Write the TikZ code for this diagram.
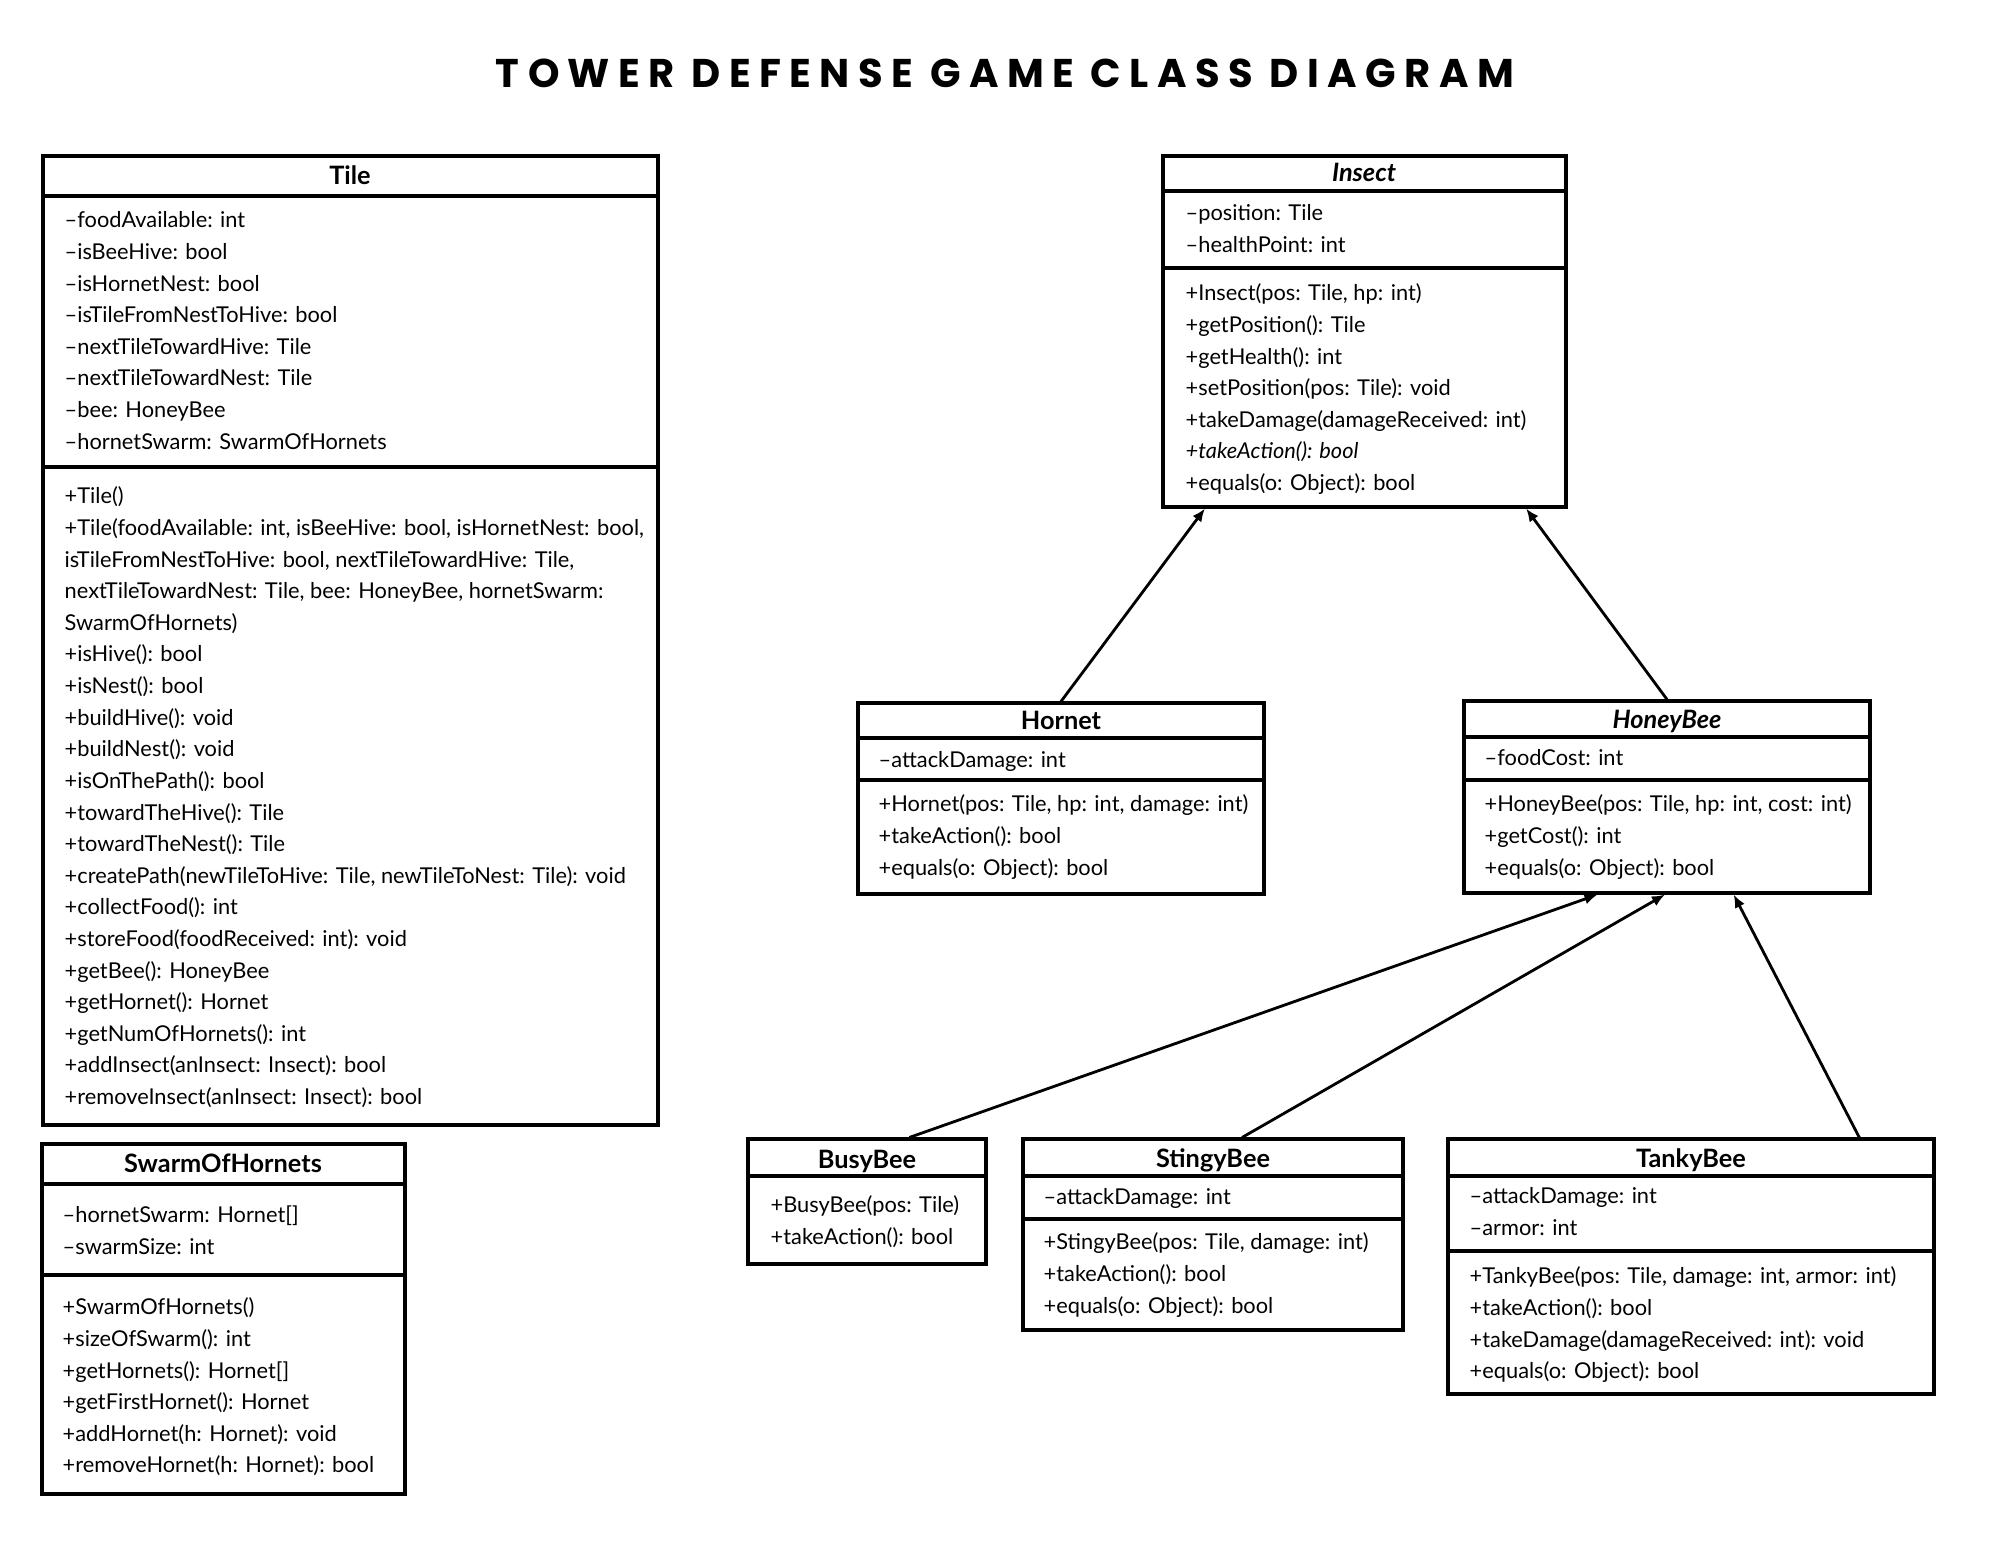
\documentclass[tikz,border=0pt]{standalone}
\usepackage{fontspec}
\setmainfont{Lato}
\newfontfamily\titlefont[LetterSpace=21]{Poppins}
\usetikzlibrary{arrows.meta,calc,fit}
\newcommand\memberfont{\fontsize{6.2}{8.99}\selectfont}
\newcommand\headfont{\fontsize{7.2}{9}\selectfont\bfseries}
\tikzset{
  classbox/.style={draw,line width=0.9pt,inner sep=0pt},
  sepline/.style={line width=0.9pt},
  head/.style={anchor=base,inner sep=0pt,font=\headfont},
  members/.style={anchor=north west,inner sep=0pt,align=left,font=\memberfont},
  inherit/.style={line width=0.8pt,-{Latex[length=1.3mm,width=1.1mm]}}
}

\begin{document}
\begin{tikzpicture}[x=0.01cm,y=-0.01cm]
\useasboundingbox (0,0) rectangle (2000,1547);
\node[anchor=base,inner sep=0pt,font=\titlefont\fontsize{11.4}{12}\selectfont\bfseries] (title) at (1005,87) {TOWER DEFENSE GAME CLASS DIAGRAM};
% Tile
\node[classbox,fit={(43,156) (658,1125)}] (tile) {};
\draw[sepline] (43,196) -- (658,196);
\draw[sepline] (43,467) -- (658,467);
\node[head] (tileH) at (350,184) {Tile};
\node[members] (tileA) at (64,205) {\strut –foodAvailable: int\\ –isBeeHive: bool\\ –isHornetNest: bool\\ –isTileFromNestToHive: bool\\ –nextTileTowardHive: Tile\\ –nextTileTowardNest: Tile\\ –bee: HoneyBee\\ –hornetSwarm: SwarmOfHornets};
\node[members] (tileM) at (64,481) {\strut +Tile()\\ +Tile(foodAvailable: int, isBeeHive: bool, isHornetNest: bool,\\ isTileFromNestToHive: bool, nextTileTowardHive: Tile,\\ nextTileTowardNest: Tile, bee: HoneyBee, hornetSwarm:\\ SwarmOfHornets)\\ +isHive(): bool\\ +isNest(): bool\\ +buildHive(): void\\ +buildNest(): void\\ +isOnThePath(): bool\\ +towardTheHive(): Tile\\ +towardTheNest(): Tile\\ +createPath(newTileToHive: Tile, newTileToNest: Tile): void\\ +collectFood(): int\\ +storeFood(foodReceived: int): void\\ +getBee(): HoneyBee\\ +getHornet(): Hornet\\ +getNumOfHornets(): int\\ +addInsect(anInsect: Insect): bool\\ +removeInsect(anInsect: Insect): bool};
% SwarmOfHornets
\node[classbox,fit={(42,1144) (405,1494)}] (swarm) {};
\draw[sepline] (42,1184) -- (405,1184);
\draw[sepline] (42,1275) -- (405,1275);
\node[head] (swarmH) at (223,1172) {SwarmOfHornets};
\node[members] (swarmA) at (62,1200) {\strut –hornetSwarm: Hornet[]\\ –swarmSize: int};
\node[members] (swarmM) at (62,1292) {\strut +SwarmOfHornets()\\ +sizeOfSwarm(): int\\ +getHornets(): Hornet[]\\ +getFirstHornet(): Hornet\\ +addHornet(h: Hornet): void\\ +removeHornet(h: Hornet): bool};
% Insect
\node[classbox,fit={(1163,156) (1566,507)}] (insect) {};
\draw[sepline] (1163,191) -- (1566,191);
\draw[sepline] (1163,268) -- (1566,268);
\node[head] (insectH) at (1364,181) {\itshape Insect};
\node[members] (insectA) at (1185,198) {\strut –position: Tile\\ –healthPoint: int};
\node[members] (insectM) at (1185,278) {\strut +Insect(pos: Tile, hp: int)\\ +getPosition(): Tile\\ +getHealth(): int\\ +setPosition(pos: Tile): void\\ +takeDamage(damageReceived: int)\\ \textit{+takeAction(): bool}\\ +equals(o: Object): bool};
% Hornet
\node[classbox,fit={(858,703) (1264,894)}] (hornet) {};
\draw[sepline] (858,738) -- (1264,738);
\draw[sepline] (858,780) -- (1264,780);
\node[head] (hornetH) at (1061,729) {Hornet};
\node[members] (hornetA) at (878,745) {\strut –attackDamage: int};
\node[members] (hornetM) at (878,789) {\strut +Hornet(pos: Tile, hp: int, damage: int)\\ +takeAction(): bool\\ +equals(o: Object): bool};
% HoneyBee
\node[classbox,fit={(1464,701) (1870,893)}] (honeybee) {};
\draw[sepline] (1464,737) -- (1870,737);
\draw[sepline] (1464,780) -- (1870,780);
\node[head] (honeybeeH) at (1667,728) {\itshape HoneyBee};
\node[members] (honeybeeA) at (1484,743) {\strut –foodCost: int};
\node[members] (honeybeeM) at (1484,789) {\strut +HoneyBee(pos: Tile, hp: int, cost: int)\\ +getCost(): int\\ +equals(o: Object): bool};
% BusyBee
\node[classbox,fit={(748,1139) (986,1264)}] (busybee) {};
\draw[sepline] (748,1176) -- (986,1176);
\node[head] (busybeeH) at (867,1168) {BusyBee};
\node[members] (busybeeM) at (770,1190) {\strut +BusyBee(pos: Tile)\\ +takeAction(): bool};
% StingyBee
\node[classbox,fit={(1023,1139) (1403,1330)}] (stingybee) {};
\draw[sepline] (1023,1176) -- (1403,1176);
\draw[sepline] (1023,1219) -- (1403,1219);
\node[head] (stingybeeH) at (1213,1167) {StingyBee};
\node[members] (stingybeeA) at (1043,1182) {\strut –attackDamage: int};
\node[members] (stingybeeM) at (1043,1227) {\strut +StingyBee(pos: Tile, damage: int)\\ +takeAction(): bool\\ +equals(o: Object): bool};
% TankyBee
\node[classbox,fit={(1448,1139) (1934,1394)}] (tankybee) {};
\draw[sepline] (1448,1176) -- (1934,1176);
\draw[sepline] (1448,1251) -- (1934,1251);
\node[head] (tankybeeH) at (1691,1167) {TankyBee};
\node[members] (tankybeeA) at (1469,1181) {\strut –attackDamage: int\\ –armor: int};
\node[members] (tankybeeM) at (1469,1261) {\strut +TankyBee(pos: Tile, damage: int, armor: int)\\ +takeAction(): bool\\ +takeDamage(damageReceived: int): void\\ +equals(o: Object): bool};
% inheritance
\draw[inherit] (hornet.north) -- ($(insect.south west)!0.107!(insect.south east)$);
\draw[inherit] (honeybee.north) -- ($(insect.south west)!0.898!(insect.south east)$);
\draw[inherit] ($(busybee.north west)!0.676!(busybee.north east)$) -- ($(honeybee.south west)!0.33!(honeybee.south east)$);
\draw[inherit] ($(stingybee.north west)!0.576!(stingybee.north east)$) -- ($(honeybee.south west)!0.495!(honeybee.south east)$);
\draw[inherit] ($(tankybee.north west)!0.844!(tankybee.north east)$) -- ($(honeybee.south west)!0.663!(honeybee.south east)$);
\end{tikzpicture}
\end{document}
